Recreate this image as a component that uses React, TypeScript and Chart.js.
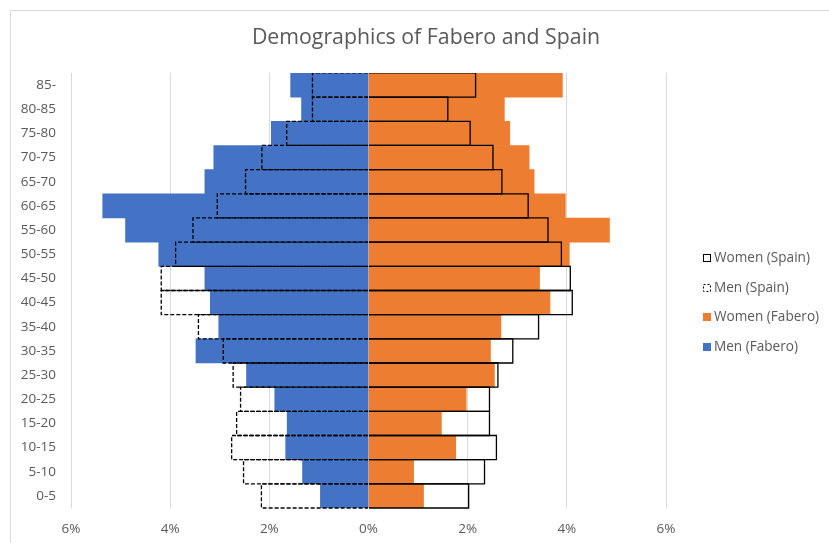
import React, { useEffect, useRef } from "react";
import { Chart, registerables } from "chart.js";

Chart.register(...registerables);

const ageGroups = ["85-", "80-85", "75-80", "70-75", "65-70", "60-65", "55-60", "50-55", "45-50", "40-45", "35-40", "30-35", "25-30", "20-25", "15-20", "10-15", "5-10", "0-5"];
const menFabero = [1.57, 1.35, 1.96, 3.12, 3.3, 5.36, 4.9, 4.23, 3.3, 3.19, 3.02, 3.48, 2.46, 1.89, 1.64, 1.67, 1.33, 0.97];
const menSpain = [1.13, 1.13, 1.65, 2.15, 2.48, 3.05, 3.54, 3.89, 4.18, 4.18, 3.43, 2.93, 2.73, 2.58, 2.66, 2.76, 2.52, 2.16];
const womenFabero = [3.91, 2.74, 2.85, 3.24, 3.34, 3.97, 4.86, 4.05, 3.45, 3.66, 2.67, 2.46, 2.54, 1.97, 1.47, 1.76, 0.91, 1.11];
const womenSpain = [2.16, 1.6, 2.05, 2.51, 2.69, 3.22, 3.62, 3.89, 4.07, 4.11, 3.43, 2.91, 2.61, 2.44, 2.44, 2.58, 2.34, 2.02];

const BLUE = "#4472C4";
const ORANGE = "#ED7D31";
const TEXT = "#595959";
const GRID = "#d9d9d9";
const FONT = "'Open Sans', sans-serif";

const outlinePlugin = {
  id: "spainOutlines",
  afterDatasetsDraw(chart: any) {
    const ctx = chart.ctx;
    const area = chart.chartArea;
    ctx.save();
    ctx.beginPath();
    ctx.rect(area.left, area.top, area.right - area.left, area.bottom - area.top + 2);
    ctx.clip();
    chart.data.datasets.forEach((ds: any, i: number) => {
      if (!ds.outline) return;
      const meta = chart.getDatasetMeta(i);
      ctx.strokeStyle = "#000";
      ctx.lineWidth = 1.3;
      ctx.setLineDash(ds.outline === "dashed" ? [4, 2] : []);
      meta.data.forEach((el: any) => {
        const p = el.getProps(["x", "y", "base", "height"], true);
        const top = p.y - p.height / 2;
        const bottom = p.y + p.height / 2;
        ctx.beginPath();
        ctx.moveTo(p.base, top);
        ctx.lineTo(p.x, top);
        ctx.lineTo(p.x, bottom);
        ctx.lineTo(p.base, bottom);
        ctx.stroke();
      });
    });
    ctx.restore();
  },
};

const legendPlugin = {
  id: "customLegend",
  afterDraw(chart: any) {
    const ctx = chart.ctx;
    const x0 = chart.chartArea.right + 37;
    const y0 = 258;
    const step = 29.7;
    ctx.save();
    ctx.font = `13.6px ${FONT}`;
    ctx.textBaseline = "middle";
    ctx.textAlign = "left";
    chart.data.datasets.forEach((ds: any, i: number) => {
      const y = y0 + i * step;
      const bx = x0 + 0.5;
      const by = Math.round(y - 4) + 0.5;
      if (ds.outline) {
        ctx.fillStyle = "#fff";
        ctx.fillRect(bx, by, 7, 7);
        ctx.strokeStyle = "#000";
        ctx.lineWidth = 1;
        ctx.setLineDash(ds.outline === "dashed" ? [2, 2] : []);
        ctx.strokeRect(bx, by, 7, 7);
        ctx.setLineDash([]);
      } else {
        ctx.fillStyle = ds.backgroundColor;
        ctx.fillRect(x0, by - 0.5, 8, 8);
      }
      ctx.fillStyle = TEXT;
      ctx.fillText(ds.label, x0 + 11, y);
    });
    ctx.restore();
  },
};

export default function App() {
  const ref = useRef<HTMLCanvasElement>(null);

  useEffect(() => {
    if (!ref.current) return;
    const chart = new Chart(ref.current, {
      type: "bar",
      data: {
        labels: ageGroups,
        datasets: [
          { label: "Women (Spain)", data: womenSpain, backgroundColor: "rgba(0,0,0,0)", borderWidth: 0, outline: "solid" } as any,
          { label: "Men (Spain)", data: menSpain.map((v) => -v), backgroundColor: "rgba(0,0,0,0)", borderWidth: 0, outline: "dashed" } as any,
          { label: "Women (Fabero)", data: womenFabero, backgroundColor: ORANGE, borderWidth: 0 },
          { label: "Men (Fabero)", data: menFabero.map((v) => -v), backgroundColor: BLUE, borderWidth: 0 },
        ],
      },
      options: {
        indexAxis: "y",
        responsive: false,
        animation: false,
        datasets: {
          bar: { grouped: false, barPercentage: 1, categoryPercentage: 1 },
        } as any,
        layout: { padding: { left: 10, right: -13, top: 10, bottom: 0 } },
        plugins: {
          legend: { display: false },
          tooltip: { enabled: false },
          title: {
            display: true,
            text: "Demographics of Fabero and Spain",
            color: TEXT,
            font: { family: FONT, size: 21.3, weight: "normal" },
            padding: { top: 15, bottom: 22.4 },
          },
        },
        scales: {
          x: {
            type: "linear",
            min: -6,
            max: 6,
            ticks: {
              stepSize: 2,
              color: TEXT,
              font: { family: FONT, size: 13.5 },
              padding: 13,
              callback: (v: any) => Math.abs(Number(v)) + "%",
            },
            grid: { color: GRID, drawTicks: false, lineWidth: 1 },
            border: { display: false },
            afterFit: (s: any) => {
              s.height = 35;
            },
          },
          y: {
            type: "category",
            position: "left",
            ticks: { color: TEXT, font: { family: FONT, size: 13.5 }, padding: 15 },
            grid: { display: false, drawTicks: false },
            border: { display: false },
            afterFit: (s: any) => {
              s.width = 61;
            },
          },
          y2: {
            type: "category",
            position: "right",
            display: true,
            ticks: { display: false },
            grid: { display: false, drawTicks: false },
            border: { display: false },
            afterFit: (s: any) => {
              s.width = 176;
            },
          },
        },
      } as any,
      plugins: [outlinePlugin, legendPlugin],
    });
    return () => chart.destroy();
  }, []);

  return (
    <div style={{ position: "fixed", left: 0, top: 0, width: 829, height: 543, overflow: "hidden", background: "#fff" }}>
      <div style={{ position: "absolute", left: 10, top: 10, width: 840, height: 560, border: "1px solid #d9d9d9", boxSizing: "border-box" }} />
      <canvas ref={ref} width={829} height={543} style={{ position: "absolute", left: 0, top: 0, width: 829, height: 543 }} />
    </div>
  );
}
